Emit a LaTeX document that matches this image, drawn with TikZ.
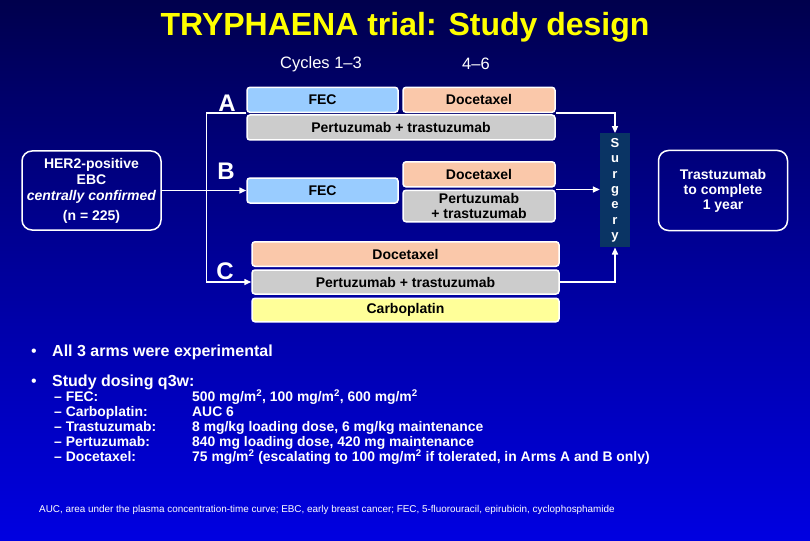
\documentclass[tikz,border=0pt]{standalone}
\usepackage{fontspec}
\setmainfont{Liberation Sans}
\definecolor{fecblue}{RGB}{153,204,255}
\definecolor{docepeach}{RGB}{250,200,170}
\definecolor{ptgrey}{RGB}{204,204,204}
\definecolor{carbyellow}{RGB}{255,255,153}
\definecolor{surgteal}{RGB}{10,52,100}
\definecolor{titleyellow}{RGB}{255,255,0}
\definecolor{bgbottom}{RGB}{0,0,235}
\definecolor{bglow}{RGB}{0,0,225}
\definecolor{bgmid}{RGB}{0,0,170}
\definecolor{bghigh}{RGB}{0,0,110}
\definecolor{bgdark}{RGB}{0,0,50}
\definecolor{bgtop}{RGB}{0,0,5}
\usetikzlibrary{arrows.meta,positioning,calc}
\pgfdeclareverticalshading{slidebg}{100bp}{color(0bp)=(bgbottom); color(25bp)=(bglow);
  color(45bp)=(bgmid); color(65bp)=(bghigh); color(83bp)=(bgdark); color(95bp)=(bgtop);
  color(100bp)=(black)}

\begin{document}
\begin{tikzpicture}[x=1pt, y=-1pt,
    every node/.style={align=center, text=white},
    armbox/.style={fill=#1, draw=white, line width=1.5pt, rounded corners=3pt,
      text=black, inner sep=0pt, font=\fontsize{14}{15}\selectfont\bfseries},
    outline/.style={draw=white, line width=1.5pt, rounded corners=10pt, inner sep=0pt,
      font=\fontsize{14}{16}\selectfont\bfseries},
    txt/.style={anchor=base west, inner sep=0pt, align=left},
    conn/.style={draw=white, line width=1.5pt},
    arr/.style={conn, -{Triangle[length=7pt,width=6pt]}}]
  \useasboundingbox (0,0) rectangle (810,540);
  \shade[shading=slidebg] (0,0) rectangle (810,540);

  \node[text=titleyellow, font=\fontsize{32}{34}\selectfont\bfseries] (title) at (405,27)
    {TRYPHAENA trial: Study design};
  \node[font=\fontsize{16.5}{18}\selectfont] (cyc1) at (321,64) {Cycles 1--3};
  \node[font=\fontsize{16.5}{18}\selectfont] (cyc2) at (476,64) {4--6};

  \foreach \nm/\col/\x/\y/\w/\h/\lbl in {
    fecA/fecblue/322.5/99.8/151/25/FEC,
    docA/docepeach/479/99.8/152/25/Docetaxel,
    ptA/ptgrey/401/127.5/308/25/Pertuzumab + trastuzumab,
    fecB/fecblue/322.5/190.5/151/25/FEC,
    docB/docepeach/479/174.3/152/25/Docetaxel,
    ptB/ptgrey/479/206/152/31.5/{Pertuzumab\\+ trastuzumab},
    docC/docepeach/405.5/254/307/24.5/Docetaxel,
    ptC/ptgrey/405.5/282/307/24/Pertuzumab + trastuzumab,
    carbC/carbyellow/405.5/310/307/23.5/Carboplatin}
  {
    \node[armbox=\col, minimum width=\w pt, minimum height=\h pt] (\nm) at (\x,\y) {\lbl};
  }
  \foreach \arm/\x/\y in {A/227/103.5, B/226/171.5, C/225/271.5}
    \node[font=\fontsize{24}{24}\selectfont\bfseries] (lbl\arm) at (\x,\y) {\arm};

  \node[outline, minimum width=139pt, minimum height=79pt] (her2) at (91.5,190.5)
    {HER2-positive\\EBC\\\textit{centrally confirmed}\\[4pt](n = 225)};
  \node[fill=surgteal, minimum width=30pt, minimum height=114pt, inner sep=0pt,
        font=\fontsize{13}{15.3}\selectfont\bfseries] (surg) at (615,190.3)
    {S\\u\\r\\g\\e\\r\\y};
  \node[outline, minimum width=129pt, minimum height=80pt, font=\fontsize{14}{15}\selectfont\bfseries]
    (trast) at (723,190.5) {Trastuzumab\\to complete\\1 year};

  \coordinate (split) at ($(fecA.south west)+(-40,0)$);
  \draw[arr] (fecA.south west) -- (split) |- (ptC.west);
  \draw[arr] (her2.east) -- (her2.east -| fecB.west);
  \draw[arr] (docA.south east) -| (surg.north);
  \draw[arr] (ptB.north east) -- (ptB.north east -| surg.west);
  \draw[arr] (ptC.east) -| (surg.south);

  \foreach \i/\y/\txt in {1/356.7/All 3 arms were experimental, 2/386/Study dosing q3w:}
  {
    \node[anchor=base, font=\fontsize{16}{18}\selectfont] (dot\i) at (34,\y) {•};
    \node[txt, font=\fontsize{16}{18}\selectfont\bfseries] (bul\i) at (52,\y) {\txt};
  }
  \foreach \i/\drug/\dose in {
    1/FEC:/{500 mg/m\textsuperscript{2}, 100 mg/m\textsuperscript{2}, 600 mg/m\textsuperscript{2}},
    2/Carboplatin:/{AUC 6},
    3/Trastuzumab:/{8 mg/kg loading dose, 6 mg/kg maintenance},
    4/Pertuzumab:/{840 mg loading dose, 420 mg maintenance},
    5/Docetaxel:/{75 mg/m\textsuperscript{2} (escalating to 100 mg/m\textsuperscript{2} if tolerated, in Arms A and B only)}}
  {
    \node[txt, font=\fontsize{13.9}{15}\selectfont\bfseries] (drug\i) at (54,386.7+15*\i) {-- \drug};
    \node[txt, font=\fontsize{13.9}{15}\selectfont\bfseries] (dose\i) at (192,386.7+15*\i) {\dose};
  }

  \node[txt, font=\fontsize{9.9}{11}\selectfont] (foot) at (39,512)
    {AUC, area under the plasma concentration-time curve; EBC, early breast cancer; FEC, 5-fluorouracil, epirubicin, cyclophosphamide};
\end{tikzpicture}
\end{document}
